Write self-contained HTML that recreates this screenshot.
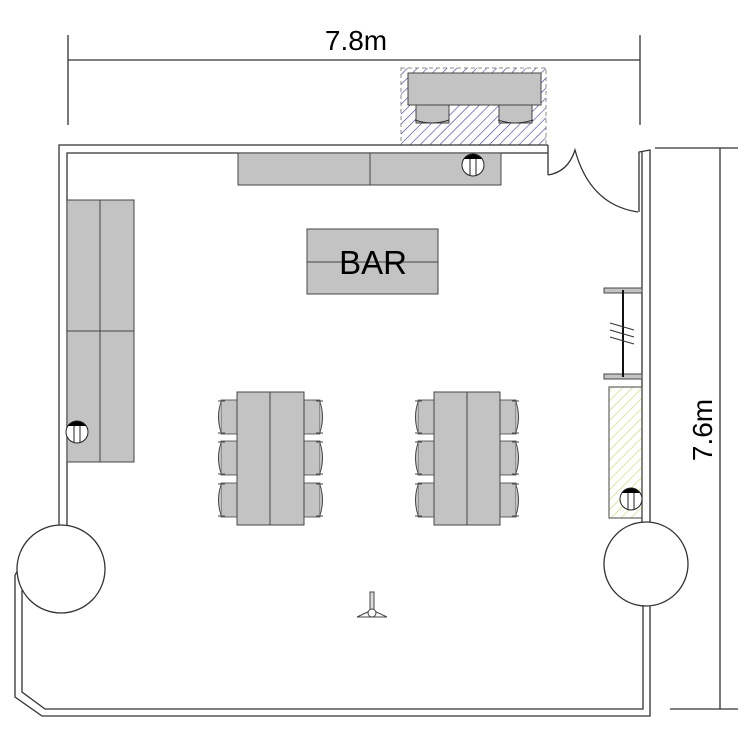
<!DOCTYPE html>
<html><head><meta charset="utf-8"><style>html,body{margin:0;padding:0;background:#fff}svg{display:block}</style></head>
<body>
<svg width="750" height="750" viewBox="0 0 750 750" xmlns="http://www.w3.org/2000/svg">
<defs>
<pattern id="hb" width="7" height="7" patternUnits="userSpaceOnUse" patternTransform="rotate(45)">
<line x1="0" y1="0" x2="0" y2="7" stroke="#3a3a90" stroke-width="1.2"/></pattern>
<pattern id="hy" width="7" height="7" patternUnits="userSpaceOnUse" patternTransform="rotate(45)">
<line x1="0" y1="0" x2="0" y2="7" stroke="#d4d480" stroke-width="1.3"/></pattern>
<g id="sym"><circle r="11" fill="#fff" stroke="#222"/><path d="M-9,-6 A11,11 0 0 1 9,-6 Z" fill="#000"/><line x1="-3" y1="-6" x2="-3" y2="10" stroke="#222"/><line x1="3" y1="-6" x2="3" y2="10" stroke="#222"/></g>
<g id="chL"><rect x="4" y="0" width="16" height="34" fill="#c3c3c3" stroke="#444" stroke-width="0.8"/><path d="M4,2 Q-1,17 4,32" fill="#c3c3c3" stroke="#444"/><line x1="1" y1="1" x2="8" y2="1" stroke="#444"/><line x1="1" y1="33" x2="8" y2="33" stroke="#444"/></g>
</defs>
<g fill="none" stroke="#333" stroke-width="1.3">
<line x1="68" y1="60" x2="640" y2="60"/><line x1="68" y1="35" x2="68" y2="125"/><line x1="640" y1="35" x2="640" y2="125"/>
<line x1="720" y1="148" x2="720" y2="709"/><line x1="655" y1="148" x2="738" y2="148"/><line x1="670" y1="709" x2="738" y2="709"/>
</g>
<text x="356" y="50" font-family="Liberation Sans, sans-serif" font-size="28" text-anchor="middle">7.8m</text>
<text transform="translate(712,430) rotate(-90)" font-family="Liberation Sans, sans-serif" font-size="28" text-anchor="middle">7.6m</text>
<rect x="401" y="68" width="145" height="77" fill="url(#hb)" stroke="#888" stroke-dasharray="4,3"/>
<rect x="408" y="73" width="133" height="32" fill="#c3c3c3" stroke="#444"/>
<rect x="416" y="105" width="33" height="18" fill="#c3c3c3" stroke="#444"/>
<rect x="499" y="105" width="33" height="18" fill="#c3c3c3" stroke="#444"/>
<path d="M415,120 Q432,126 449,120 M498,120 Q515,126 533,120" stroke="#333" fill="none"/>
<g fill="none" stroke="#333" stroke-width="1.3">
<path d="M548,145 L59,145 L59,540"/>
<path d="M548,145 L548,175 M548,153 L67,153 L67,540"/>
<path d="M548,175 Q568,172 575,150 Q590,205 638,212"/>
<path d="M639,212 L639,152 L650,150 L650,540 M642,152 L642,540"/>
<path d="M18,570 L15,575 L15,697 L42,716 L650,716 L650,590"/>
<path d="M22,590 L22,692 L45,709 L643,709 L643,590"/>
</g>
<g fill="#fff" stroke="#333" stroke-width="1.3">
<circle cx="61" cy="569" r="44"/>
<circle cx="646" cy="564" r="42"/>
</g>
<rect x="238" y="153" width="263" height="32" fill="#c3c3c3" stroke="#444"/>
<line x1="370" y1="153" x2="370" y2="185" stroke="#444"/>
<use href="#sym" x="473" y="165"/>
<rect x="307" y="229" width="131" height="65" fill="#c3c3c3" stroke="#444"/>
<line x1="307" y1="262" x2="438" y2="262" stroke="#444"/>
<text x="373" y="274" font-family="Liberation Sans, sans-serif" font-size="33" text-anchor="middle">BAR</text>
<rect x="67" y="200" width="67" height="262" fill="#c3c3c3" stroke="#444"/>
<line x1="100" y1="200" x2="100" y2="462" stroke="#444"/>
<line x1="67" y1="331" x2="134" y2="331" stroke="#444"/>
<use href="#sym" x="77" y="432"/>
<g>
<use href="#chL" x="217" y="400"/><use href="#chL" x="217" y="441"/><use href="#chL" x="217" y="483"/>
<use href="#chL" transform="translate(324,0) scale(-1,1)" y="400"/><use href="#chL" transform="translate(324,0) scale(-1,1)" y="441"/><use href="#chL" transform="translate(324,0) scale(-1,1)" y="483"/>
<rect x="237" y="392" width="67" height="133" fill="#c3c3c3" stroke="#444"/><line x1="270" y1="392" x2="270" y2="525" stroke="#444"/>
<use href="#chL" x="414" y="400"/><use href="#chL" x="414" y="441"/><use href="#chL" x="414" y="483"/>
<use href="#chL" transform="translate(520,0) scale(-1,1)" y="400"/><use href="#chL" transform="translate(520,0) scale(-1,1)" y="441"/><use href="#chL" transform="translate(520,0) scale(-1,1)" y="483"/>
<rect x="434" y="392" width="66" height="133" fill="#c3c3c3" stroke="#444"/><line x1="467" y1="392" x2="467" y2="525" stroke="#444"/>
</g>
<rect x="604" y="288" width="38" height="5" fill="#c3c3c3" stroke="#444"/>
<rect x="604" y="374" width="38" height="5" fill="#c3c3c3" stroke="#444"/>
<line x1="623" y1="290" x2="623" y2="377" stroke="#111" stroke-width="2"/>
<path d="M610,323 L634,330 M610,330 L634,337 M610,337 L634,344" stroke="#333"/>
<rect x="609" y="387" width="33" height="131" fill="url(#hy)" stroke="#444"/>
<use href="#sym" x="631" y="499"/>
<g stroke="#444" fill="#ddd">
<line x1="357" y1="617" x2="387" y2="617"/><line x1="357" y1="617" x2="372" y2="610" /><line x1="387" y1="617" x2="372" y2="610"/>
<rect x="370" y="592" width="4" height="18"/><circle cx="372" cy="613" r="4" fill="#fff"/>
</g>
</svg>
</body></html>
